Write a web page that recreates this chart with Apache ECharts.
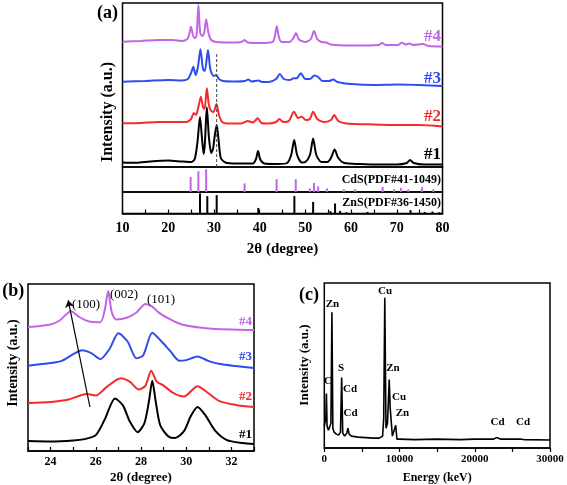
<!DOCTYPE html>
<html><head><meta charset="utf-8">
<script src="https://cdn.jsdelivr.net/npm/echarts@6/dist/echarts.min.js"></script>
<style>html,body{margin:0;padding:0;background:#fff}#c{width:567px;height:485px}</style>
</head><body><div id="c"></div>
<script>
const FONT = '"Liberation Serif","Times New Roman",serif';
const BLACK = '#000000', RED = '#f52a2a', BLUE = '#2f4cf0', PURPLE = '#c264e6';

// ---------- Panel (a): XRD patterns, [2theta, stacked intensity] ----------
const xrdA1 = [[10,4.5],[13,4.2],[16,5.5],[20,6.5],[23,5.5],[25,5],[25.8,8],[26.4,25],[26.95,50],[27.4,28],[27.75,13],[28.0,22],[28.45,59.7],[28.9,30],[29.4,14],[29.8,18],[30.2,32],[30.6,42],[31.0,28],[31.5,9],[32.5,4.5],[35,3.5],[38.5,3.5],[39.2,8],[39.65,16],[40.1,8],[41,3.5],[44,3],[46,4],[46.9,12],[47.55,27],[48.2,12],[49.2,4.5],[50,5],[51.0,12],[51.7,28.5],[52.4,12],[53.5,5],[54.8,5],[55.6,9],[56.4,17.5],[57.2,9],[58.5,4],[62,3],[66,2.5],[70,2.5],[72.2,4],[72.9,7],[73.7,4],[76,2.5],[80,2.5]];
const xrdA2 = [[10,43.7],[14,44],[18,45],[22,45],[24,45],[25.0,48],[25.6,54],[26.1,52],[26.6,60],[27.15,70.3],[27.6,60],[27.95,58],[28.45,78.7],[28.9,62],[29.4,56],[29.9,55],[30.55,63],[31.1,52],[31.8,45],[33,43.5],[36,43.5],[37.4,46],[38.5,44.5],[39.6,48.7],[40.4,44],[42,43.5],[43.6,45],[44.3,48],[45.2,45],[46.4,46],[47.5,55.3],[48.4,49],[49.2,50.3],[50.1,47],[51.0,48],[51.7,55.3],[52.6,48],[54,45],[55.6,47],[56.3,52],[57.2,46],[59,43.5],[65,42.5],[70,42],[75,42],[80,40.5]];
const xrdA3 = [[10,85.3],[15,86],[20,87],[23,86.5],[24.3,88],[25.0,94],[25.5,100.3],[26.0,92],[26.5,100],[27.05,117.7],[27.6,98],[28.0,96],[28.7,117],[29.2,98],[29.9,91],[30.5,92],[31.1,88],[32,86],[35,85.5],[36.8,86],[37.5,87.5],[38.3,85.5],[39.7,86.5],[40.5,85],[42,85],[43.6,88],[44.4,93],[45.3,88],[46.5,87],[47.4,88.7],[48.2,89],[49.0,93.7],[50.0,88],[51.0,88],[52.0,91.5],[52.8,90],[53.7,86],[55.2,86],[56.1,87.5],[57,85],[60,83],[65,82],[70,82.5],[75,82],[80,81]];
const xrdA4 = [[10,125.3],[14,126],[18,127],[21,127],[23,126],[24.2,128],[24.55,132],[25.0,140.3],[25.4,132],[25.8,129],[26.2,131],[26.6,162],[27.0,134],[27.5,131],[27.9,135],[28.3,147.7],[28.8,134],[29.4,127],[30.5,125],[34,124.5],[36.0,125],[36.7,127],[37.4,124.5],[40,124],[42.8,125],[43.3,130],[43.75,141],[44.2,130],[44.8,125],[46.5,125],[47.4,129],[47.95,134],[48.6,127.5],[50,125],[51.2,128],[51.9,136],[52.6,128],[53.5,125],[54.6,124.5],[55.5,122.5],[60,121.5],[66,122],[66.8,124],[67.6,122],[70.3,122],[71.1,124.3],[72,122.5],[72.7,123.5],[73.5,122],[75.7,123],[77,121],[80,120.5]];
const dashA = [[30.6,0],[30.6,115]];
const cdsPos = [24.9,26.6,28.3,36.7,43.7,47.9,51.0,51.9,52.8,54.7,58.4,60.9,66.9,69.4,70.9,72.5,75.5,78.0];
const cdsInt = [66,91,100,38,56,56,16,40,25,16,12,12,22,12,18,12,21,12];
const znsPos = [26.95,28.55,30.6,39.7,47.6,51.7,55.5,56.5,57.6,59.0,63.6,73.0,76.1,77.8,79.3];
const znsInt = [100,87,92,28,87,58,12,50,13,6,8,17,8,10,6];
const ticksA = [10,20,30,40,50,60,70,80];
const tickMarksA = [10,15,20,25,30,35,40,45,50,55,60,65,70,75,80];

// ---------- Panel (b): zoomed XRD ----------
const xrdB1 = [[23,10],[24,9.5],[25,10.5],[25.5,12],[26.0,16],[26.4,32],[26.85,53],[27.2,46],[27.5,30],[27.85,19],[28.15,28],[28.35,50],[28.5,71],[28.65,50],[28.85,26],[29.2,15],[29.5,13],[29.9,20],[30.2,35],[30.5,44.5],[30.85,36],[31.3,20],[31.8,11],[32.5,8],[33,7]];
const xrdB2 = [[23,48.4],[24,49.5],[24.8,52],[25.6,57.5],[26.0,56],[26.5,65],[27.1,73.5],[27.5,70],[27.9,62],[28.2,66],[28.45,81],[28.7,70],[29.0,66],[29.4,59],[29.9,55],[30.5,65.4],[31.0,58],[31.5,50],[32.2,46.5],[33,44.4]];
const xrdB3 = [[23,86],[24,88.7],[24.5,91],[25.0,97.7],[25.4,101.7],[25.8,98.7],[26.2,92.7],[26.6,102.7],[27.0,118.7],[27.4,110.7],[27.8,93.5],[28.1,96.7],[28.5,119.4],[28.9,110.7],[29.3,100.7],[29.7,91],[30.0,91.7],[30.5,95.4],[31.0,90.7],[31.5,87.7],[32.2,85.7],[33,83.7]];
const xrdB4 = [[23,125],[24,127.7],[24.4,131.7],[24.9,141],[25.3,134.7],[25.7,130.7],[26.2,130],[26.4,142.7],[26.55,161.5],[26.7,140.7],[26.9,132.7],[27.4,134.7],[27.8,139.7],[28.2,148.4],[28.5,145.7],[28.8,139.4],[29.3,132.7],[29.8,127.7],[31,123.7],[33,122]];
const arrowB = [[25.74,44.4],[24.78,152]];
const ticksB = [24,26,28,30,32];
const tickMarksB = [23,24,25,26,27,28,29,30,31,32,33];

// ---------- Panel (c): EDS spectrum ----------
const edsC = [[0,22],[100,20],[200,30],[277,55],[370,22],[550,18],[750,20],[880,25],[1012,137],[1140,20],[1300,16],[1600,14],[1900,13],[2150,16],[2307,71],[2450,15],[2700,12],[3000,15],[3133,20],[3300,14],[3600,12],[4500,11],[5500,10.5],[6500,10],[7300,10],[7750,12],[7900,30],[8040,151.7],[8200,20],[8400,25],[8530,50],[8630,69],[8760,40],[8900,42],[9050,12],[9300,11],[9490,23],[9650,9],[10000,9],[12000,8.5],[15000,9],[18000,8.5],[20000,9],[22500,9],[22900,10.5],[23100,11.5],[23400,9],[26000,9],[26200,10],[26500,8.5],[30000,8]];
const ticksC = [0,10000,20000,30000];
const tickMarksC = [0,5000,10000,15000,20000,25000,30000];

const chart = echarts.init(document.getElementById('c'));
const frame = {show:true, borderColor:'#000', borderWidth:1.5, backgroundColor:'transparent'};
function hiddenX(i,min,max){return {gridIndex:i,type:'value',min:min,max:max,show:false};}
function hiddenY(i,max){return {gridIndex:i,type:'value',min:0,max:max,show:false};}
function shownX(i,min,max,labels,marks,opts){
  return {gridIndex:i,type:'value',min:min,max:max,
    axisLine:{show:true,onZero:false,lineStyle:{color:'#000',width:1.5}},
    axisTick:{show:true,inside:opts.inside,length:opts.tick,customValues:marks,lineStyle:{color:'#000',width:1.2}},
    minorTick:{show:false},
    splitLine:{show:false}, minorSplitLine:{show:false},
    axisLabel:{color:'#000',fontFamily:FONT,fontWeight:'bold',fontSize:opts.fs,margin:opts.margin,
      customValues:labels,formatter:function(v){return String(v);}},
    name:opts.name,nameLocation:'middle',nameGap:opts.gap,
    nameTextStyle:{color:'#000',fontFamily:FONT,fontWeight:'bold',fontSize:opts.nfs}};
}
function ln(data,color,xi,w,smooth){
  return {type:'line',data:data,xAxisIndex:xi,yAxisIndex:xi,showSymbol:false,symbol:'none',
    smooth:smooth,lineStyle:{color:color,width:w},itemStyle:{color:color},silent:true,z:3};
}
function txt(t,x,y,size,color,align,weight,rot){
  return {type:'text',x:x,y:y,rotation:rot||0,silent:true,z:10,
    style:{text:t,fill:color,font:(weight||'bold')+' '+size+'px '+FONT,align:align||'center',verticalAlign:'middle'}};
}

chart.setOption({
  animation:false,
  backgroundColor:'#fff',
  grid:[
    Object.assign({left:122.5,top:3,width:320,height:164},frame),
    Object.assign({left:122.5,top:167,width:320,height:25},frame),
    Object.assign({left:122.5,top:192,width:320,height:21.5},frame),
    Object.assign({left:28,top:284,width:226,height:168.5},frame),
    Object.assign({left:324.3,top:283,width:225.7,height:166.5},frame)
  ],
  xAxis:[
    hiddenX(0,10,80), hiddenX(1,10,80),
    shownX(2,10,80,ticksA,tickMarksA,{inside:true,tick:4,fs:14,margin:8,name:'2θ (degree)',gap:28,nfs:15}),
    shownX(3,23,33,ticksB,tickMarksB,{inside:true,tick:4,fs:12,margin:5,name:'2θ (degree)',gap:20,nfs:13}),
    shownX(4,0,30000,ticksC,tickMarksC,{inside:false,tick:4,fs:11,margin:6,name:'Energy (keV)',gap:24,nfs:12})
  ],
  yAxis:[hiddenY(0,164),hiddenY(1,110),hiddenY(2,107.5),hiddenY(3,168.5),hiddenY(4,166.5)],
  series:[
    ln(xrdA1,BLACK,0,2,0.25), ln(xrdA2,RED,0,2,0.25), ln(xrdA3,BLUE,0,2,0.25), ln(xrdA4,PURPLE,0,2,0.25),
    {type:'line',data:dashA,xAxisIndex:0,yAxisIndex:0,showSymbol:false,symbol:'none',
      lineStyle:{color:'#444',width:1,type:[3,2]},z:4,silent:true},
    {type:'bar',data:cdsPos.map((p,i)=>[p,cdsInt[i]]),xAxisIndex:1,yAxisIndex:1,barWidth:2,
      itemStyle:{color:PURPLE},silent:true},
    {type:'bar',data:znsPos.map((p,i)=>[p,znsInt[i]]),xAxisIndex:2,yAxisIndex:2,barWidth:2,
      itemStyle:{color:BLACK},silent:true},
    ln(xrdB1,BLACK,3,2,0.25), ln(xrdB2,RED,3,2,0.25), ln(xrdB3,BLUE,3,2,0.25), ln(xrdB4,PURPLE,3,2,0.25),
    {type:'lines',coordinateSystem:'cartesian2d',xAxisIndex:3,yAxisIndex:3,
      data:[{coords:arrowB}],symbol:['none','arrow'],symbolSize:7,
      lineStyle:{color:'#000',width:1.2,opacity:1},z:5,silent:true},
    ln(edsC,BLACK,4,1.6,false)
  ],
  graphic:[
    txt('(a)',107.5,13.5,18,'#000'),
    txt('Intensity (a.u.)',108,112,16,'#000','center','bold',Math.PI/2),
    txt('#4',441,37,17,PURPLE,'right'),
    txt('#3',441,78.5,17,BLUE,'right'),
    txt('#2',441,116.5,17,RED,'right'),
    txt('#1',441,155,17,'#000','right'),
    txt('CdS(PDF#41-1049)',441,180,12,'#000','right'),
    txt('ZnS(PDF#36-1450)',441,203,12,'#000','right'),

    txt('(b)',13.3,291.5,18,'#000'),
    txt('Intensity (a.u.)',13.3,363,14,'#000','center','bold',Math.PI/2),
    txt('#4',252,321.7,13,PURPLE,'right'),
    txt('#3',252,357,13,BLUE,'right'),
    txt('#2',252,396.7,13,RED,'right'),
    txt('#1',252,434.3,13,'#000','right'),
    txt('(100)',86,305,13,'#000','center','normal'),
    txt('(002)',124,295,13,'#000','center','normal'),
    txt('(101)',161,300,13,'#000','center','normal'),

    txt('(c)',309,295,18,'#000'),
    txt('Intensity (a.u.)',304.5,365,13,'#000','center','bold',Math.PI/2),
    txt('Cu',385,290.7,11,'#000'),
    txt('Zn',332.5,304.3,11,'#000'),
    txt('S',341,367.7,11,'#000'),
    txt('C',328,381,11,'#000'),
    txt('Cd',350,389.3,11,'#000'),
    txt('Cd',350.5,413.3,11,'#000'),
    txt('Zn',393,368.3,11,'#000'),
    txt('Cu',399,396.7,11,'#000'),
    txt('Zn',402.5,412.7,11,'#000'),
    txt('Cd',497.5,421.7,11,'#000'),
    txt('Cd',523,421.7,11,'#000')
  ]
});
</script></body></html>
